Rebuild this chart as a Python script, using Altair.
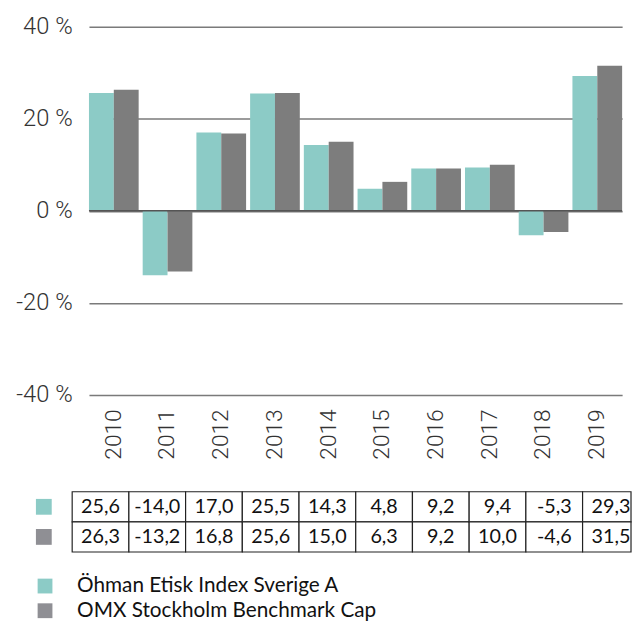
import altair as alt
import pandas as pd

years = ["2010", "2011", "2012", "2013", "2014", "2015", "2016", "2017", "2018", "2019"]
fund = [25.6, -14.0, 17.0, 25.5, 14.3, 4.8, 9.2, 9.4, -5.3, 29.3]
bench = [26.3, -13.2, 16.8, 25.6, 15.0, 6.3, 9.2, 10.0, -4.6, 31.5]
series = ["Öhman Etisk Index Sverige A", "OMX Stockholm Benchmark Cap"]
bar_colors = ["#8ccbc6", "#7d7d7d"]
key_colors = ["#8ccbc6", "#8f8f94"]
y_ticks = [-40, -20, 0, 20, 40]

rows = []
for i, yr in enumerate(years):
    rows.append({"year": yr, "col": i, "series": series[0], "value": fund[i]})
    rows.append({"year": yr, "col": i, "series": series[1], "value": bench[i]})
df = pd.DataFrame(rows)
df["label"] = df["value"].map(lambda v: f"{v:.1f}".replace(".", ","))
keys = pd.DataFrame({"series": series, "col": [-1, -1]})
zero_df = pd.DataFrame({"v": [0]})

AX_FONT = "Roboto"

bars = alt.Chart(df).mark_bar().encode(
    x=alt.X("year:N", sort=years, title=None,
            scale=alt.Scale(paddingInner=0.075, paddingOuter=0),
            axis=alt.Axis(labelAngle=270, labelFont=AX_FONT, labelFontWeight=300,
                          labelFontSize=23, labelColor="#333333", labelPadding=14,
                          domain=False, ticks=False, minExtent=80, maxExtent=80)),
    xOffset=alt.XOffset("series:N", sort=series),
    y=alt.Y("value:Q", title=None,
            scale=alt.Scale(domain=[-40, 40], nice=False),
            axis=alt.Axis(values=y_ticks, labelExpr="datum.value + ' %'",
                          labelFont=AX_FONT, labelFontWeight=300, labelFontSize=24,
                          labelColor="#333333", labelPadding=17, grid=True,
                          gridColor="#7a7a7a", gridWidth=1.5, domain=False, ticks=False,
                          minExtent=82, maxExtent=82)),
    color=alt.Color("series:N", sort=series,
                    scale=alt.Scale(domain=series, range=bar_colors), legend=None),
)
zero = alt.Chart(zero_df).mark_rule(color="#555555", strokeWidth=1.5).encode(
    y=alt.Y("v:Q", title=None)
)
top = alt.layer(bars, zero).properties(width=540, height=373)

# table: visible part of the column grid (it runs past the right edge)
TABLE_W = 549
X_START = 0.296
X_END = 9.854
xscale = alt.Scale(domain=[X_START, X_END], nice=False, zero=False)
yband = alt.Scale(paddingInner=0, paddingOuter=0)

cells = alt.Chart(df).transform_calculate(
    col2=f"min(datum.col + 1, {X_END})"
).mark_rect(fill="white", stroke="#222222", strokeWidth=1.2).encode(
    x=alt.X("col:Q", scale=xscale, axis=None),
    x2="col2:Q",
    y=alt.Y("series:N", sort=series, axis=None, scale=yband),
)
texts = alt.Chart(df).transform_calculate(mid="datum.col + 0.5").mark_text(
    font="Lato", fontSize=20, color="#111111", baseline="middle", align="center"
).encode(
    x=alt.X("mid:Q", scale=xscale, axis=None),
    y=alt.Y("series:N", sort=series, axis=None, scale=yband),
    text="label:N",
)
squares = alt.Chart(keys).transform_calculate(mid="datum.col + 0.5").mark_square(
    size=256, opacity=1
).encode(
    x=alt.X("mid:Q", scale=xscale, axis=None),
    y=alt.Y("series:N", sort=series, axis=None, scale=yband),
    color=alt.Color("series:N", sort=series, title=None,
                    scale=alt.Scale(domain=series, range=key_colors),
                    legend=alt.Legend(orient="none", legendX=-55, legendY=85,
                                      symbolType="square", symbolSize=225,
                                      symbolStrokeWidth=0, symbolOpacity=1,
                                      labelFont="Lato", labelFontSize=21,
                                      labelColor="#111111", labelOffset=22,
                                      labelLimit=0, rowPadding=3, padding=0)),
)
table = alt.layer(cells, texts, squares).properties(width=TABLE_W, height=61)

chart = alt.vconcat(top, table, spacing=17).resolve_scale(
    color="independent", x="independent", y="independent"
).properties(
    padding={"left": 0, "top": 3, "right": 0, "bottom": 0}
).configure_view(stroke=None)

chart.save("out.html", embed_options={"renderer": "svg", "actions": False})
